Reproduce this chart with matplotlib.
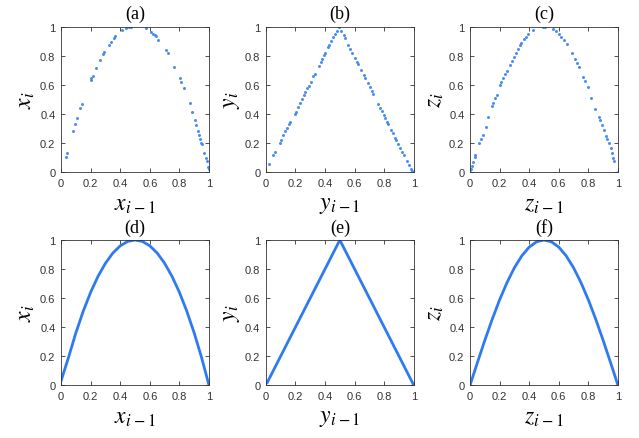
import numpy as np
import matplotlib.pyplot as plt

plt.rcParams['mathtext.fontset'] = 'stix'
plt.rcParams['font.family'] = 'Liberation Sans'

# (a) logistic map samples
xa_prev = [0.031, 0.04, 0.081, 0.097, 0.108, 0.128, 0.139, 0.2, 0.204, 0.213, 0.236, 0.263,
           0.285, 0.29, 0.321, 0.335, 0.36, 0.366, 0.413, 0.438, 0.461, 0.47, 0.571, 0.611,
           0.622, 0.634, 0.643, 0.658, 0.712, 0.721, 0.766, 0.802, 0.811, 0.829, 0.87, 0.885,
           0.903, 0.915, 0.926, 0.933, 0.942, 0.948, 0.953, 0.969, 0.978, 0.984, 0.993, 0.998]
xa_next = [0.101, 0.133, 0.28, 0.331, 0.368, 0.441, 0.469, 0.632, 0.644, 0.662, 0.713, 0.772,
           0.814, 0.823, 0.874, 0.894, 0.924, 0.933, 0.975, 0.989, 0.998, 1.0, 0.989, 0.961,
           0.952, 0.943, 0.933, 0.91, 0.837, 0.818, 0.722, 0.644, 0.621, 0.579, 0.474, 0.414,
           0.359, 0.322, 0.28, 0.257, 0.23, 0.202, 0.193, 0.133, 0.097, 0.074, 0.037, 0.023]

# (b) tent map samples
yb_prev = [0.023, 0.05, 0.059, 0.095, 0.104, 0.118, 0.131, 0.14, 0.154, 0.163, 0.195, 0.204,
           0.217, 0.231, 0.244, 0.258, 0.267, 0.281, 0.29, 0.303, 0.321, 0.33, 0.357, 0.371,
           0.38, 0.394, 0.403, 0.421, 0.43, 0.443, 0.457, 0.466, 0.48, 0.493, 0.511, 0.525,
           0.534, 0.557, 0.57, 0.584, 0.602, 0.615, 0.624, 0.643, 0.661, 0.67, 0.688, 0.701,
           0.715, 0.724, 0.76, 0.774, 0.783, 0.796, 0.805, 0.819, 0.828, 0.846, 0.86, 0.873,
           0.882, 0.896, 0.91, 0.923, 0.932, 0.955, 0.968, 0.982, 0.991]
yb_next = [0.057, 0.119, 0.137, 0.2, 0.219, 0.251, 0.279, 0.301, 0.329, 0.347, 0.397, 0.416,
           0.447, 0.475, 0.502, 0.53, 0.548, 0.575, 0.594, 0.621, 0.658, 0.671, 0.731, 0.758,
           0.776, 0.804, 0.822, 0.858, 0.877, 0.904, 0.932, 0.95, 0.973, 0.995, 0.968, 0.941,
           0.922, 0.877, 0.849, 0.822, 0.785, 0.758, 0.74, 0.703, 0.667, 0.648, 0.612, 0.584,
           0.557, 0.539, 0.466, 0.438, 0.42, 0.393, 0.374, 0.347, 0.329, 0.292, 0.265, 0.237,
           0.219, 0.192, 0.164, 0.137, 0.119, 0.073, 0.046, 0.018, 0.005]

# (c) sine map samples
zc_prev = [0.0, 0.005, 0.011, 0.018, 0.032, 0.036, 0.063, 0.072, 0.086, 0.108, 0.122, 0.149,
           0.158, 0.171, 0.18, 0.203, 0.212, 0.225, 0.239, 0.248, 0.27, 0.284, 0.297, 0.311,
           0.324, 0.338, 0.347, 0.365, 0.378, 0.392, 0.423, 0.491, 0.509, 0.563, 0.581, 0.604,
           0.617, 0.635, 0.653, 0.689, 0.712, 0.725, 0.739, 0.766, 0.779, 0.797, 0.82, 0.847,
           0.869, 0.878, 0.892, 0.905, 0.919, 0.928, 0.937, 0.95, 0.959, 0.968, 0.973, 1.0]
zc_next = [0.0, 0.018, 0.041, 0.069, 0.106, 0.119, 0.202, 0.225, 0.257, 0.307, 0.381, 0.454,
           0.472, 0.509, 0.532, 0.601, 0.619, 0.647, 0.674, 0.693, 0.739, 0.766, 0.794, 0.821,
           0.849, 0.876, 0.89, 0.913, 0.931, 0.95, 0.977, 1.0, 1.0, 0.982, 0.968, 0.95,
           0.931, 0.908, 0.881, 0.821, 0.78, 0.752, 0.725, 0.656, 0.624, 0.587, 0.509, 0.431,
           0.381, 0.358, 0.326, 0.289, 0.248, 0.225, 0.197, 0.165, 0.133, 0.096, 0.078, 0.0]

# bottom row curves
grid = [0.0, 0.05, 0.1, 0.15, 0.2, 0.25, 0.3, 0.35, 0.4, 0.45, 0.5,
        0.55, 0.6, 0.65, 0.7, 0.75, 0.8, 0.85, 0.9, 0.95, 1.0]
d_curve = [0.03, 0.19, 0.36, 0.51, 0.64, 0.75, 0.84, 0.91, 0.96, 0.99, 1.0,
           0.99, 0.96, 0.91, 0.84, 0.75, 0.64, 0.51, 0.36, 0.19, 0.0]
e_x = [0.01, 0.5, 1.0]
e_curve = [0.02, 1.0, 0.0]
f_curve = [0.0, 0.156, 0.309, 0.454, 0.588, 0.707, 0.809, 0.891, 0.951, 0.988, 1.0,
           0.988, 0.951, 0.891, 0.809, 0.707, 0.588, 0.454, 0.309, 0.156, 0.0]

titles = ['(a)', '(b)', '(c)', '(d)', '(e)', '(f)']
var = ['x', 'y', 'z']
ticks = [0, 0.2, 0.4, 0.6, 0.8, 1]
tick_labels = ['0', '0.2', '0.4', '0.6', '0.8', '1']

blue = '#2f7af0'
dot_blue = '#4a8ef2'

fig = plt.figure(figsize=(6.39, 4.39), dpi=100)
lefts = [0.0955, 0.416, 0.7355]
bottoms = [0.606, 0.12]
w, h = 0.2316, 0.331

axes = []
for r in range(2):
    for c in range(3):
        axes.append(fig.add_axes([lefts[c], bottoms[r], w, h]))

axes[0].plot(xa_prev, xa_next, '.', color=dot_blue, markersize=2.3)
axes[1].plot(yb_prev, yb_next, '.', color=dot_blue, markersize=2.3)
axes[2].plot(zc_prev, zc_next, '.', color=dot_blue, markersize=2.3)
axes[3].plot(grid, d_curve, '-', color=blue, linewidth=2)
axes[4].plot(e_x, e_curve, '-', color=blue, linewidth=2)
axes[5].plot(grid, f_curve, '-', color=blue, linewidth=2)

for i, ax in enumerate(axes):
    v = var[i % 3]
    ax.set_xlim(0, 1)
    ax.set_ylim(0, 1)
    ax.set_xticks(ticks)
    ax.set_yticks(ticks)
    ax.set_xticklabels(tick_labels)
    ax.set_yticklabels(tick_labels)
    ax.tick_params(direction='in', length=3, width=0.6, labelsize=8, colors='#333333',
                   top=True, right=True, pad=4)
    for s in ax.spines.values():
        s.set_color('#333333')
        s.set_linewidth(0.6)
    ax.set_title(titles[i], fontsize=13, family='Liberation Serif', pad=6)
    ax.set_ylabel(r'$\mathit{%s}_{\mathit{i}}$' % v, fontsize=17, labelpad=2)
    ax.set_xlabel(r'$\mathit{%s}_{\mathit{i}\ \mathrm{-}\,\mathrm{1}}$' % v, fontsize=17, labelpad=4)

fig.savefig('out.png', dpi=100)
